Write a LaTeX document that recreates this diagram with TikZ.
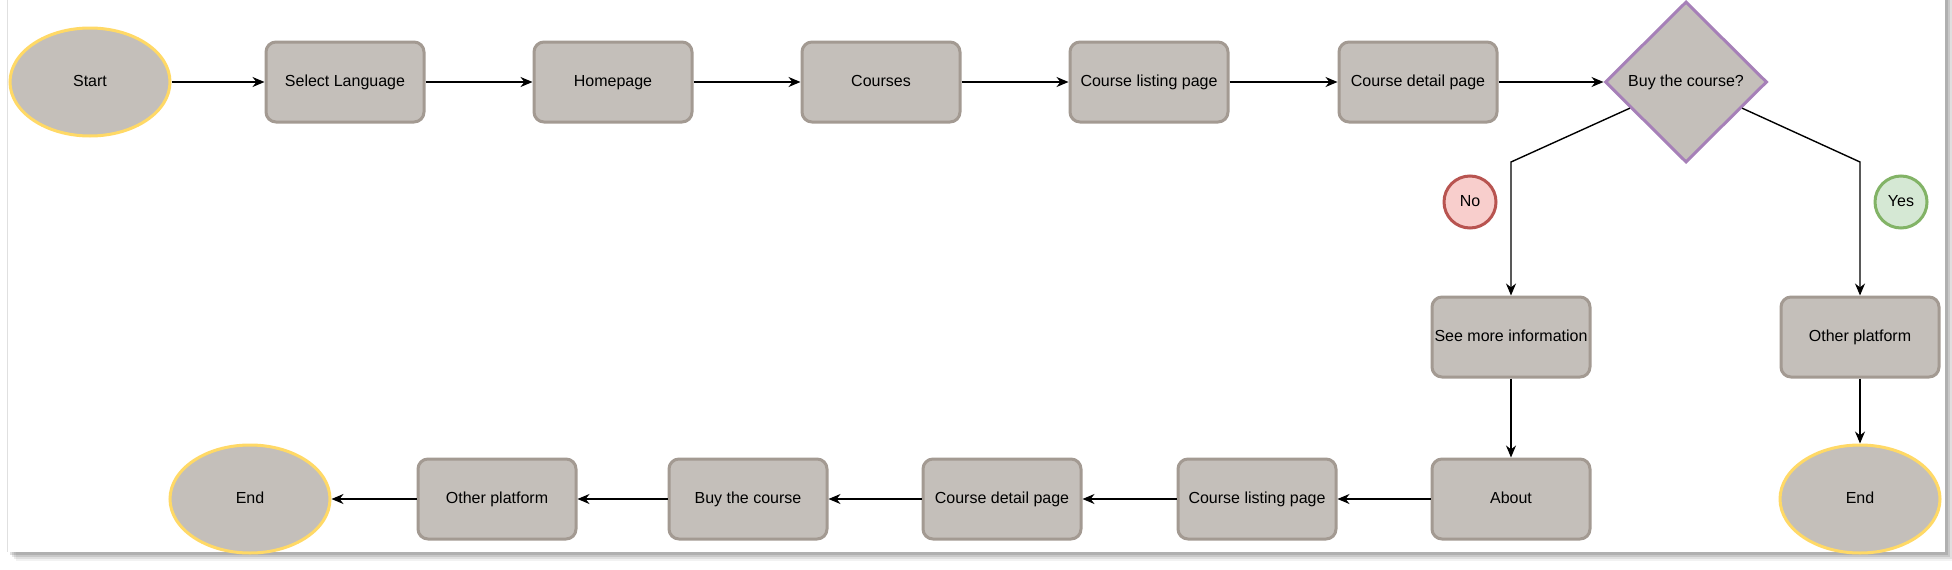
\documentclass[tikz,border=0pt]{standalone}
\usepackage{fontspec}
\setmainfont{Liberation Sans}
\usetikzlibrary{shapes.geometric,arrows.meta}
\definecolor{boxfill}{HTML}{C4BFBA}
\definecolor{boxline}{HTML}{A39A92}
\definecolor{ylw}{HTML}{FFD966}
\definecolor{purp}{HTML}{A680B8}
\definecolor{nofill}{HTML}{F8CECC}
\definecolor{noline}{HTML}{B85450}
\definecolor{yesfill}{HTML}{D5E8D4}
\definecolor{yesline}{HTML}{82B366}
\tikzset{
  every node/.style={font=\fontsize{16}{19}\selectfont, text height=11.5pt, text depth=3.5pt},
  stepbox/.style={rectangle, rounded corners=10pt, minimum width=158pt, minimum height=80pt, fill=boxfill, draw=boxline, line width=3pt, inner sep=2pt},
  term/.style={ellipse, minimum width=160pt, minimum height=108pt, fill=boxfill, draw=ylw, line width=3pt},
  decide/.style={diamond, minimum width=162pt, minimum height=161pt, fill=boxfill, draw=purp, line width=3pt, inner sep=0pt},
  badge/.style={circle, minimum size=52pt, line width=3pt, inner sep=0pt},
  arr/.style={-{Stealth[length=12pt,width=10pt]}, line width=1.4pt}
}
\begin{document}
\begin{tikzpicture}[x=1pt,y=-1pt]
\useasboundingbox (0,0) rectangle (1952,570);
% page with shadow
\foreach \d/\o in {9/0.05,7/0.08,5/0.1,3/0.12}{
  \fill[black,opacity=\o] (7+\d,-20) rectangle (1945+\d,552+\d);
}
\fill[white] (7,-20) rectangle (1945,552);
\draw[black!12,line width=1pt] (7,-20) -- (7,552);

% top row
\node[term] (start) at (90,82) {Start};
\node[stepbox] (lang) at (345,82) {Select Language};
\node[stepbox] (home) at (613,82) {Homepage};
\node[stepbox] (courses) at (881,82) {Courses};
\node[stepbox] (list1) at (1149,82) {Course listing page};
\node[stepbox] (det1) at (1418,82) {Course detail page};
\node[decide] (buy) at (1686,82) {Buy the course?};

% branches
\node[stepbox] (more) at (1511,337) {See more information};
\node[stepbox] (other1) at (1860,337) {Other platform};
\node[stepbox] (about) at (1511,499) {About};
\node[term] (end1) at (1860,499) {End};
\node[badge, fill=nofill, draw=noline] (no) at (1470,202) {No};
\node[badge, fill=yesfill, draw=yesline] (yes) at (1901,202) {Yes};

% bottom row
\node[stepbox] (list2) at (1257,499) {Course listing page};
\node[stepbox] (det2) at (1002,499) {Course detail page};
\node[stepbox] (buy2) at (748,499) {Buy the course};
\node[stepbox] (other2) at (497,499) {Other platform};
\node[term] (end2) at (250,499) {End};

% connectors
\draw[arr] (start) -- (lang);
\draw[arr] (lang) -- (home);
\draw[arr] (home) -- (courses);
\draw[arr] (courses) -- (list1);
\draw[arr] (list1) -- (det1);
\draw[arr] (det1) -- (buy);
\draw[arr] (buy.205) -- (more.north |- 0,162) -- (more.north);
\draw[arr] (buy.335) -- (other1.north |- 0,162) -- (other1.north);
\draw[arr] (more) -- (about);
\draw[arr] (other1) -- (end1);
\draw[arr] (about) -- (list2);
\draw[arr] (list2) -- (det2);
\draw[arr] (det2) -- (buy2);
\draw[arr] (buy2) -- (other2);
\draw[arr] (other2) -- (end2);
\end{tikzpicture}
\end{document}
